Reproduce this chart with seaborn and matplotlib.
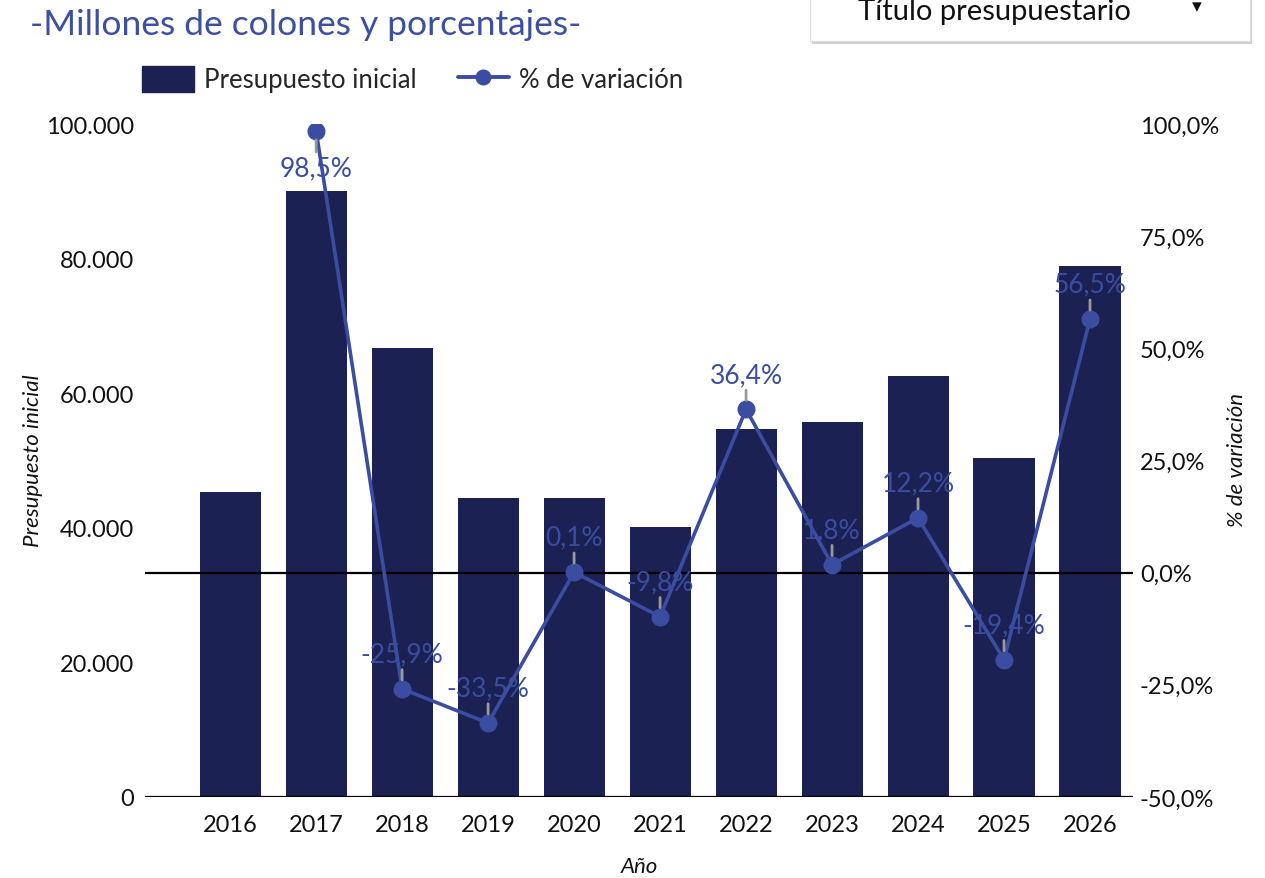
import matplotlib
matplotlib.use("Agg")
import matplotlib.pyplot as plt
import matplotlib.patches as mpatches
from matplotlib.lines import Line2D
from matplotlib.ticker import FuncFormatter, FixedLocator
import seaborn as sns
import pandas as pd
import numpy as np

# ---- data ----
years = ["2016", "2017", "2018", "2019", "2020", "2021", "2022", "2023", "2024", "2025", "2026"]
presupuesto = [45300, 90000, 66700, 44400, 44450, 40100, 54700, 55700, 62500, 50400, 78900]
variacion = [np.nan, 98.5, -25.9, -33.5, 0.1, -9.8, 36.4, 1.8, 12.2, -19.4, 56.5]
left_ticks = [0, 20000, 40000, 60000, 80000, 100000]
right_ticks = [-50, -25, 0, 25, 50, 75, 100]

BAR = "#1b2152"
LINE = "#3a4da0"
TITLE = "#3c4fa0"

sns.set_theme(style="white")
plt.rcParams["font.family"] = ["Lato", "DejaVu Sans"]

df = pd.DataFrame({"year": years, "pres": presupuesto, "var": variacion})

fig = plt.figure(figsize=(12.65, 8.79), dpi=100)
ax = fig.add_axes([145 / 1265, 1 - 798 / 879, (1133 - 145) / 1265, (798 - 125) / 879])

sns.barplot(data=df, x="year", y="pres", order=years, color=BAR, width=0.71,
            saturation=1, ax=ax, edgecolor="none")
ax.set_ylim(0, 100000)

ax2 = ax.twinx()
sns.pointplot(data=df, x="year", y="var", order=years, color=LINE, ax=ax2,
              errorbar=None, markersize=11, linewidth=2.6)
ax2.set_ylim(-50, 100)
ax.set_xlim(-0.99, 10.5)
ax2.set_xlim(-0.99, 10.5)

for a in (ax, ax2):
    for s in a.spines.values():
        s.set_visible(False)
    a.grid(False)

ax.axhline(0, color="black", lw=1.6, zorder=5)
ax2.axhline(0, color="black", lw=1.6, zorder=1)

ax.yaxis.set_major_locator(FixedLocator(left_ticks))
ax.yaxis.set_major_formatter(FuncFormatter(lambda v, p: f"{int(v):,}".replace(",", ".")))
ax2.yaxis.set_major_locator(FixedLocator(right_ticks))
ax2.yaxis.set_major_formatter(FuncFormatter(lambda v, p: f"{v:.1f}%".replace(".", ",")))

ax.tick_params(axis="y", length=0, pad=8, labelsize=17, colors="#111111")
ax.tick_params(axis="x", length=0, pad=12, labelsize=17, colors="#111111")
ax2.tick_params(axis="y", length=0, pad=5, labelsize=17, colors="#111111")

ax.set_xlabel("Año", fontsize=16, style="italic", color="#111111")
ax.xaxis.set_label_coords((639 - 145) / 988, -(867 - 798) / 673)
ax.xaxis.label.set(ha="center", va="center")
ax.set_ylabel("Presupuesto inicial", fontsize=16, style="italic", color="#111111")
ax2.set_ylabel("% de variación", fontsize=16, style="italic", color="#111111")
ax.yaxis.set_label_coords((33 - 145) / 988, (798 - 461) / 673)
ax.yaxis.label.set(ha="center", va="center")
ax2.yaxis.set_label_coords((1237 - 145) / 988, (798 - 460) / 673)
ax2.yaxis.label.set(ha="center", va="center")

# data labels with gray leader lines
for i, v in enumerate(variacion):
    if np.isnan(v):
        continue
    lab = f"{v:.1f}%".replace(".", ",")
    off = -37 if v > 90 else 35
    ax2.annotate(lab, xy=(i, v), xytext=(0, off), textcoords="offset pixels",
                 ha="center", va="center", fontsize=19, color=LINE, zorder=6,
                 arrowprops=dict(arrowstyle="-", color="#9a9a9a", lw=2,
                                 shrinkA=0, shrinkB=6.5))

# title
fig.text(30 / 1265, 1 - 25 / 879, "-Millones de colones y porcentajes-", fontsize=25.5,
         color=TITLE, ha="left", va="center")

# legend
handles = [mpatches.Patch(color=BAR, label="Presupuesto inicial"),
           Line2D([0], [0], color=LINE, lw=2.8, marker="o", markersize=10.5,
                  label="% de variación")]
fig.legend(handles=handles, loc="center left", bbox_to_anchor=(137 / 1265, 1 - 80 / 879),
           ncol=2, frameon=False, fontsize=18.5, handlelength=2.0, handleheight=1.2,
           columnspacing=1.6, handletextpad=0.4, borderaxespad=0, borderpad=0.2)

# dropdown box
shadow = mpatches.FancyBboxPatch((812 / 1265, 1 - 45 / 879), 440 / 1265, 60 / 879,
                                 boxstyle="square,pad=0", transform=fig.transFigure,
                                 facecolor="#cfcfcf", edgecolor="none", zorder=1)
box = mpatches.FancyBboxPatch((810 / 1265, 1 - 42 / 879), 440 / 1265, 60 / 879,
                              boxstyle="square,pad=0", transform=fig.transFigure,
                              facecolor="white", edgecolor="#dddddd", lw=0.8, zorder=2)
fig.patches.extend([shadow, box])
fig.text(858 / 1265, 1 - 12 / 879, "Título presupuestario", fontsize=21, color="#111111",
         ha="left", va="center", zorder=3)
fig.text(1197 / 1265, 1 - 7 / 879, "▾", fontsize=14, color="#111111",
         ha="center", va="center", zorder=3, family=["DejaVu Sans"])

fig.savefig("out.png", dpi=100)
